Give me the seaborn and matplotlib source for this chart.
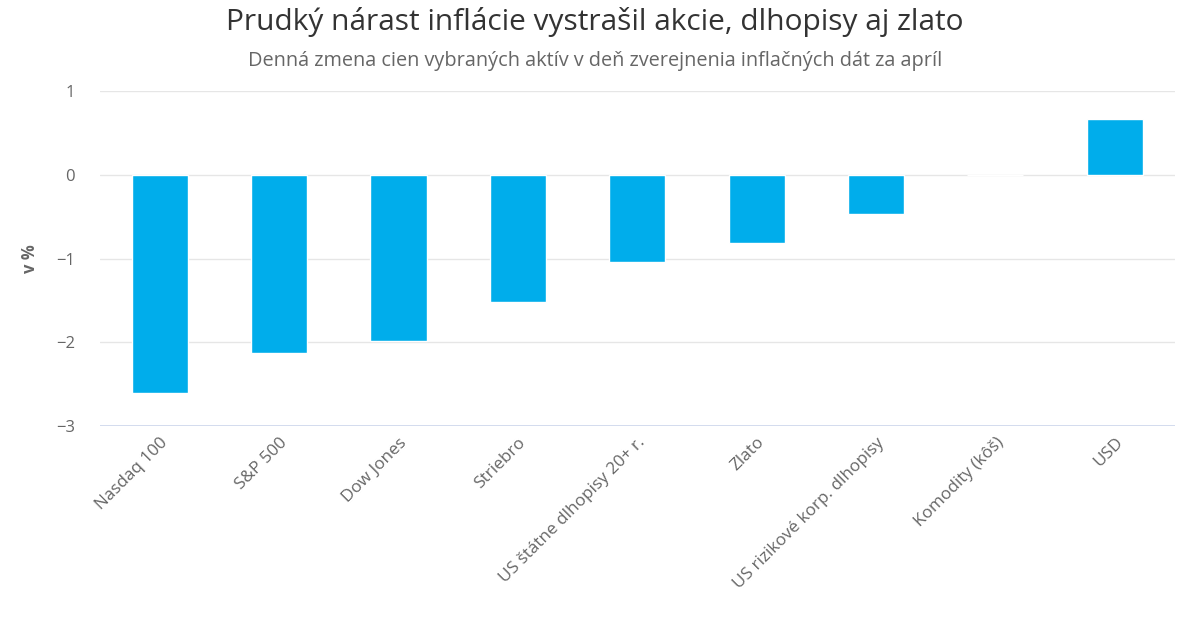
import matplotlib
matplotlib.use("Agg")
import matplotlib.pyplot as plt
import seaborn as sns
import pandas as pd

categories = ["Nasdaq 100", "S&P 500", "Dow Jones", "Striebro", "US štátne dlhopisy 20+ r.",
              "Zlato", "US rizikové korp. dlhopisy", "Komodity (kôš)", "USD"]
values = [-2.60, -2.13, -1.98, -1.52, -1.04, -0.81, -0.47, 0.0, 0.66]
yticks = [-3, -2, -1, 0, 1]
ytick_labels = ["−3", "−2", "−1", "0", "1"]

sns.set_theme(style="white")
plt.rcParams['font.family'] = ['Open Sans', 'DejaVu Sans']

df = pd.DataFrame({"cat": categories, "val": values})

fig = plt.figure(figsize=(11.9, 6.4), dpi=100)
ax = fig.add_axes([0.084, 0.334, 0.903, 0.524])
sns.barplot(data=df, x="cat", y="val", color="#00adeb", saturation=1, width=0.47, ax=ax, zorder=3)

ax.set_ylim(-3, 1)
ax.set_xlim(-0.5, len(categories) - 0.5)
ax.set_yticks(yticks)
ax.set_yticklabels(ytick_labels, fontsize=12, color="#666666")
ax.tick_params(axis="y", length=0, pad=18)
ax.tick_params(axis="x", length=0, pad=6)
for lbl in ax.get_xticklabels():
    lbl.set_rotation(45)
    lbl.set_ha("right")
    lbl.set_rotation_mode("anchor")
    lbl.set_fontsize(12.3)
    lbl.set_color("#666666")

for y in yticks[1:]:
    ax.axhline(y, color="#e6e6e6", lw=1, zorder=1)
ax.axhline(-3, color="#ccd6eb", lw=1.2, zorder=4)
for s in ax.spines.values():
    s.set_visible(False)

ax.set_xlabel("")
ax.set_ylabel("v %", fontsize=12, color="#666666", fontweight="bold", labelpad=12)

fig.text(0.5, 0.966, "Prudký nárast inflácie vystrašil akcie, dlhopisy aj zlato",
         ha="center", va="center", fontsize=21.5, color="#333333")
fig.text(0.5, 0.905, "Denná zmena cien vybraných aktív v deň zverejnenia inflačných dát za apríl",
         ha="center", va="center", fontsize=14.3, color="#666666")

fig.savefig("out.png", dpi=100)
